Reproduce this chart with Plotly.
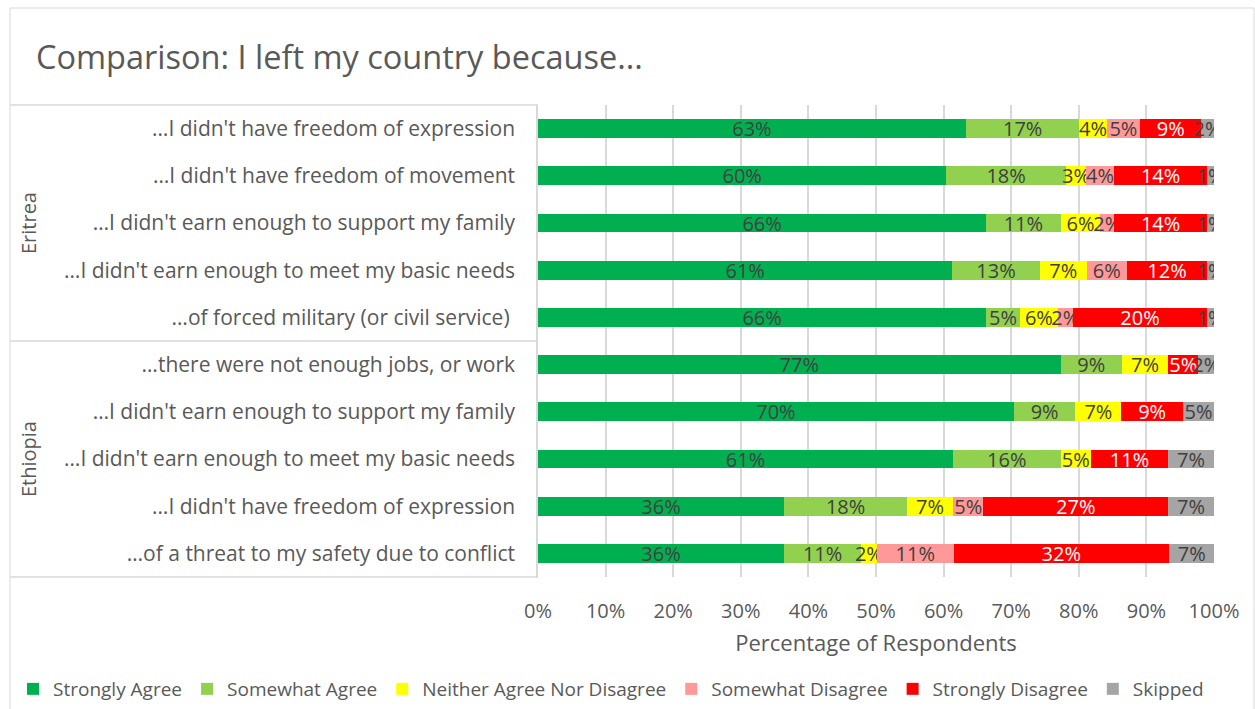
import plotly.graph_objects as go

reasons = [
    "…I didn't have freedom of expression",
    "…I didn't have freedom of movement",
    "…I didn't earn enough to support my family",
    "…I didn't earn enough to meet my basic needs",
    "…of forced military (or civil service) ",
    "…there were not enough jobs, or work",
    "…I didn't earn enough to support my family",
    "…I didn't earn enough to meet my basic needs",
    "…I didn't have freedom of expression",
    "…of a threat to my safety due to conflict",
]
countries = ["Eritrea", "Ethiopia"]

responses = ["Strongly Agree", "Somewhat Agree", "Neither Agree Nor Disagree",
             "Somewhat Disagree", "Strongly Disagree", "Skipped"]
colors = ["#00B050", "#92D050", "#FFFF00", "#FF9999", "#FF0000", "#A5A5A5"]
text_colors = ["#404040", "#404040", "#404040", "#404040", "#FFFFFF", "#404040"]

# percent of respondents, one list per response, in the order of reasons
strongly_agree = [63.3, 60.4, 66.3, 61.3, 66.3, 77.3, 70.4, 61.4, 36.4, 36.4]
somewhat_agree = [16.8, 17.7, 11.0, 12.9, 5.0, 9.1, 9.1, 15.9, 18.2, 11.4]
neither = [4.0, 3.0, 5.9, 7.0, 5.6, 6.8, 6.8, 4.5, 6.8, 2.3]
somewhat_disagree = [5.0, 4.1, 2.0, 5.9, 2.2, 0, 0, 0, 4.5, 11.4]
strongly_disagree = [9.0, 13.8, 13.8, 11.9, 19.9, 4.5, 9.1, 11.4, 27.3, 31.8]
skipped = [1.9, 1.0, 1.0, 1.0, 1.0, 2.3, 4.6, 6.8, 6.8, 6.8]

series = [strongly_agree, somewhat_agree, neither, somewhat_disagree,
          strongly_disagree, skipped]

FONT = "Open Sans"
GREY = "#595959"
LINE = "#D9D9D9"

rows = list(range(len(reasons)))

fig = go.Figure()
for name, vals, col, tcol in zip(responses, series, colors, text_colors):
    fig.add_trace(go.Bar(
        x=vals, y=rows, orientation="h", name=name,
        marker=dict(color=col, line=dict(width=0)),
        text=[f"{int(v + 0.5)}%" if v > 0 else "" for v in vals],
        textposition="inside", insidetextanchor="middle",
        constraintext="none", textangle=0,
        textfont=dict(family=FONT, size=20, color=tcol),
        hovertemplate="%{x:.1f}%<extra>" + name + "</extra>",
    ))


def px(x):
    return (x - 538) / 676


def py(y):
    return (577 - y) / 472


shapes = [
    dict(type="rect", xref="paper", yref="paper", x0=px(10), x1=px(1254),
         y0=py(712), y1=py(8), line=dict(color=LINE, width=1)),
    dict(type="line", xref="paper", yref="paper", x0=px(10), x1=0,
         y0=1, y1=1, line=dict(color=LINE, width=1.5)),
    dict(type="line", xref="paper", yref="paper", x0=px(10), x1=0,
         y0=0.5, y1=0.5, line=dict(color=LINE, width=1.5)),
    dict(type="line", xref="paper", yref="paper", x0=px(10), x1=0,
         y0=0, y1=0, line=dict(color=LINE, width=1.5)),
]

annotations = [
    dict(text=countries[0], xref="paper", yref="paper", x=px(28), y=0.75,
         xanchor="center", yanchor="middle", textangle=-90, showarrow=False,
         font=dict(family=FONT, size=20, color=GREY)),
    dict(text=countries[1], xref="paper", yref="paper", x=px(28), y=0.25,
         xanchor="center", yanchor="middle", textangle=-90, showarrow=False,
         font=dict(family=FONT, size=20, color=GREY)),
]

fig.update_layout(
    width=1255, height=709,
    margin=dict(l=538, r=41, t=105, b=132, autoexpand=False),
    paper_bgcolor="white", plot_bgcolor="white",
    barmode="stack", bargap=0.6,
    font=dict(family=FONT, color=GREY),
    title=dict(text="Comparison: I left my country because...",
               x=36 / 1255, xref="container", xanchor="left",
               y=1 - 58 / 709, yref="container", yanchor="middle",
               font=dict(family=FONT, size=32.5, color=GREY)),
    xaxis=dict(range=[0, 100], dtick=10, ticksuffix="%", showgrid=True,
               gridcolor=LINE, gridwidth=1.5, zeroline=False, showline=False,
               tickfont=dict(family=FONT, size=20, color=GREY), ticklabelstandoff=20,
               title=dict(text="Percentage of Respondents", standoff=12,
                          font=dict(family=FONT, size=22, color=GREY))),
    yaxis=dict(tickmode="array", tickvals=rows, ticktext=reasons,
               autorange="reversed", showgrid=False, zeroline=False,
               showline=True, linecolor=LINE, linewidth=1.5,
               tickfont=dict(family=FONT, size=21, color=GREY), ticklabelstandoff=17),
    legend=dict(orientation="h", x=px(13), xanchor="left", y=py(689), yanchor="middle",
                font=dict(family=FONT, size=19, color=GREY), itemwidth=30,
                traceorder="normal"),
    shapes=shapes, annotations=annotations,
)

fig.write_html("out.html", config={"displayModeBar": False},
               post_script="document.body.style.margin='0';")
